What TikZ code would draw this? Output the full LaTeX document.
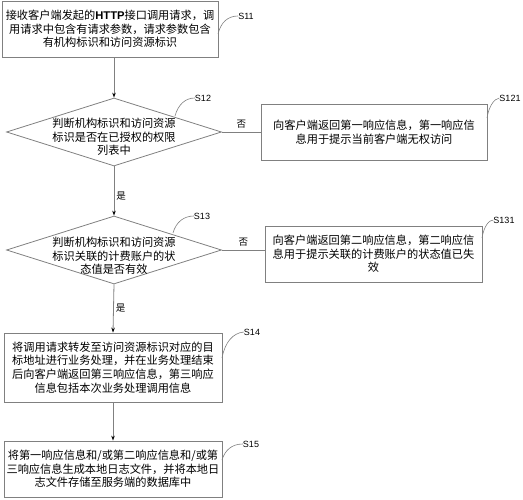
\documentclass[tikz,border=0pt]{standalone}
\usepackage{fontspec}
\setmainfont{Noto Sans CJK SC}
\setsansfont{Liberation Sans}
\usetikzlibrary{shapes.geometric,arrows.meta}
\begin{document}
\begin{tikzpicture}[x=1pt,y=-1pt,
  line/.style={draw=black!50,line width=0.8pt},
  flow/.style={line,-{Stealth[length=5pt,width=3.5pt,black]}},
  procbox/.style={line,rectangle,inner sep=0pt,font=\fontsize{11.2}{13.6}\selectfont,align=center},
  decide/.style={line,diamond,inner sep=0pt,minimum width=215pt,minimum height=68pt},
  dtext/.style={font=\fontsize{11.2}{13.6}\selectfont,align=center,text width=135pt},
  steplabel/.style={font=\sffamily\fontsize{9}{10}\selectfont,inner sep=0pt},
  branch/.style={font=\fontsize{9.5}{11}\selectfont,inner sep=0pt},
  tag/.style={draw=black!50,line width=0.6pt}]
\useasboundingbox (0,0) rectangle (523,500);

\node[procbox,minimum width=216pt,minimum height=56pt] (s11) at (110,29)
  {接收客户端发起的{\sffamily\bfseries HTTP}接口调用请求，调\\用请求中包含有请求参数，请求参数包含\\有机构标识和访问资源标识};
\node[decide] (s12) at (114,132) {};
\node[dtext] (t12) at (114,137) {判断机构标识和访问资源\\标识是否在已授权的权限\\列表中};
\node[procbox,minimum width=226pt,minimum height=56pt] (s121) at (374,132)
  {向客户端返回第一响应信息，第一响应信\\息用于提示当前客户端无权访问};
\node[decide] (s13) at (114,250) {};
\node[dtext] (t13) at (114,256) {判断机构标识和访问资源\\标识关联的计费账户的状\\态值是否有效};
\node[procbox,minimum width=217pt,minimum height=56pt] (s131) at (373.5,254)
  {向客户端返回第二响应信息，第二响应信\\息用于提示关联的计费账户的状态值已失\\效};
\node[procbox,minimum width=218pt,minimum height=69pt] (s14) at (113,367.5)
  {将调用请求转发至访问资源标识对应的目\\标地址进行业务处理，并在业务处理结束\\后向客户端返回第三响应信息，第三响应\\信息包括本次业务处理调用信息};
\node[procbox,minimum width=218pt,minimum height=56pt] (s15) at (113,469)
  {将第一响应信息和/或第二响应信息和/或第\\三响应信息生成本地日志文件，并将本地日\\志文件存储至服务端的数据库中};

\draw[flow] (s12.north |- s11.south) -- (s12.north);
\draw[flow] (s12.south) -- node[branch,pos=0.6,right=2pt] (y1) {是} (s13.north);
\draw[flow] (s13.south) -- node[branch,pos=0.5,right=2pt] (y2) {是} (s14.north |- s14.north);
\draw[flow] (s14.south) -- (s15.north);
\draw[line] (s12.east) -- node[branch,above=3pt] (n1) {否} (s12.east -| s121.west);
\draw[line] (s13.east) -- node[branch,above=3pt] (n2) {否} (s13.east -| s131.west);

\node[steplabel] (l11) at (246,16) {S11};
\node[steplabel] (l12) at (203,98) {S12};
\node[steplabel] (l121) at (510,98) {S121};
\node[steplabel] (l13) at (202,216) {S13};
\node[steplabel] (l131) at (504,220) {S131};
\node[steplabel] (l14) at (252,332) {S14};
\node[steplabel] (l15) at (251,444) {S15};

\draw[tag] (218,34) .. controls (221,22) and (228,16) .. (l11.west);
\draw[tag] (175,116) .. controls (178,105) and (185,98) .. (l12.west);
\draw[tag] (487,118) .. controls (489,106) and (494,99) .. (l121.west);
\draw[tag] (173,233) .. controls (176,222) and (184,216) .. (l13.west);
\draw[tag] (482,238) .. controls (484,226) and (489,220) .. (l131.west);
\draw[tag] (222,358) .. controls (225,342) and (233,333) .. (l14.west);
\draw[tag] (222,460) .. controls (225,450) and (232,444) .. (l15.west);
\end{tikzpicture}
\end{document}
